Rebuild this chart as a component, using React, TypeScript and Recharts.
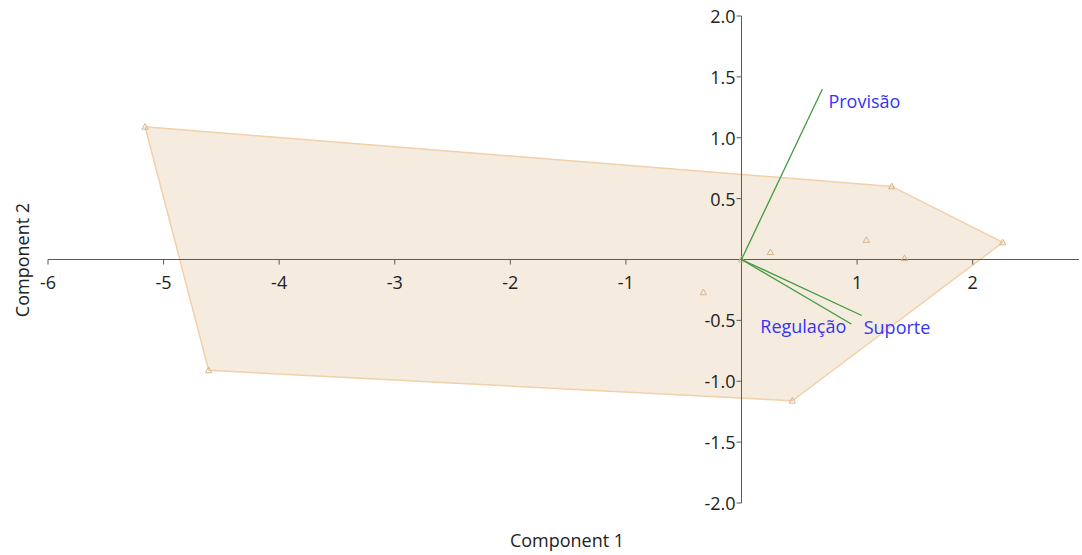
import React from "react";
import { ScatterChart, Scatter, XAxis, YAxis } from "recharts";

// Component scores (PC1, PC2) for each sample
const scoreX = [-5.16, -4.61, 0.44, 2.26, 1.3, 1.08, 0.25, 1.41, -0.33, 0.0];
const scoreY = [1.09, -0.91, -1.16, 0.14, 0.6, 0.16, 0.06, 0.01, -0.27, 0.0];
// convex hull, closed
const hullOrder = [0, 4, 3, 2, 1, 0];

// Loadings (biplot vectors)
const loadingNames = ["Provisão", "Regulação", "Suporte"];
const loadingX = [0.7, 0.95, 1.04];
const loadingY = [1.4, -0.53, -0.46];

const xTicks = [-6, -5, -4, -3, -2, -1, 1, 2];
const yTicks = [-2, -1.5, -1, -0.5, 0.5, 1, 1.5, 2];

const X_DOMAIN: [number, number] = [-6, 2.92];
const Y_DOMAIN: [number, number] = [-2, 2];

const FONT = "'Open Sans', 'Noto Sans', sans-serif";
const AXIS = "#5a5a5a";
const TEXT = "#222222";
const HULL_FILL = "#f6ebdf";
const HULL_STROKE = "#f1d0aa";
const MARK = "#d8b48c";
const VECTOR = "#3f9b3f";
const LABEL = "#3434f5";

const W = 1082;
const H = 555;

const scores = scoreX.map((x, i) => ({ x, y: scoreY[i] }));
const hull = hullOrder.map((i) => scores[i]);
const vectors = loadingNames.map((name, i) => ({
  name,
  data: [
    { x: 0, y: 0 },
    { x: loadingX[i], y: loadingY[i], name },
  ],
}));
const vectorTips = vectors.map((v) => v.data[1]);
const xAxisLine = [{ x: X_DOMAIN[0], y: 0 }, { x: X_DOMAIN[1], y: 0 }];
const yAxisLine = [{ x: 0, y: Y_DOMAIN[0] }, { x: 0, y: Y_DOMAIN[1] }];
const xTickData = xTicks.map((x) => ({ x, y: 0 }));
const yTickData = yTicks.map((y) => ({ x: 0, y }));

// where each loading label sits relative to its arrow tip
const labelPlacement: Record<string, { dx: number; dy: number; anchor: "start" | "end" }> = {
  "Provisão": { dx: 6, dy: 12, anchor: "start" },
  "Regulação": { dx: -5, dy: 2, anchor: "end" },
  "Suporte": { dx: 2, dy: 11, anchor: "start" },
};

const Empty = () => <g />;

const Triangle = (p: any) => {
  const { cx, cy } = p;
  const s = 3.2;
  return (
    <polygon
      points={`${cx},${cy - s} ${cx - s},${cy + s * 0.75} ${cx + s},${cy + s * 0.75}`}
      fill="none"
      stroke={MARK}
      strokeWidth={1}
    />
  );
};

const XTick = (p: any) => {
  const { cx, cy, payload } = p;
  return (
    <g>
      <line x1={cx} y1={cy} x2={cx} y2={cy + 5} stroke={AXIS} strokeWidth={1} />
      <text
        x={cx}
        y={cy + 22}
        textAnchor="middle"
        dominantBaseline="central"
        fontFamily={FONT}
        fontSize={18}
        fill={TEXT}
      >
        {String(payload.x)}
      </text>
    </g>
  );
};

const YTick = (p: any) => {
  const { cx, cy, payload } = p;
  return (
    <g>
      <line x1={cx - 5} y1={cy} x2={cx} y2={cy} stroke={AXIS} strokeWidth={1} />
      <text
        x={cx - 6}
        y={cy}
        textAnchor="end"
        dominantBaseline="central"
        fontFamily={FONT}
        fontSize={18}
        fill={TEXT}
      >
        {payload.y.toFixed(1)}
      </text>
    </g>
  );
};

const VectorLabel = (p: any) => {
  const { cx, cy, payload } = p;
  const pl = labelPlacement[payload.name];
  return (
    <text
      x={cx + pl.dx}
      y={cy + pl.dy}
      textAnchor={pl.anchor}
      dominantBaseline="central"
      fontFamily={FONT}
      fontSize={18}
      fill={LABEL}
    >
      {payload.name}
    </text>
  );
};

export default function App() {
  return (
    <div style={{ position: "absolute", left: 0, top: 0, width: W, height: H, background: "#fff" }}>
      <ScatterChart
        width={W}
        height={H}
        margin={{ top: 16, right: 3, bottom: 52, left: 48 }}
      >
        <XAxis type="number" dataKey="x" domain={X_DOMAIN} hide />
        <YAxis type="number" dataKey="y" domain={Y_DOMAIN} hide />

        {/* hull polygon */}
        <Scatter
          data={hull}
          line={{ stroke: HULL_STROKE, strokeWidth: 1.5, fill: HULL_FILL }}
          lineType="joint"
          shape={Empty}
          isAnimationActive={false}
        />

        {/* axes crossing at the origin */}
        <Scatter
          data={xAxisLine}
          line={{ stroke: AXIS, strokeWidth: 1 }}
          lineType="joint"
          shape={Empty}
          isAnimationActive={false}
        />
        <Scatter
          data={yAxisLine}
          line={{ stroke: AXIS, strokeWidth: 1 }}
          lineType="joint"
          shape={Empty}
          isAnimationActive={false}
        />
        <Scatter data={xTickData} shape={XTick} isAnimationActive={false} />
        <Scatter data={yTickData} shape={YTick} isAnimationActive={false} />

        {/* sample scores */}
        <Scatter data={scores} shape={Triangle} isAnimationActive={false} />

        {/* loading vectors */}
        {vectors.map((v) => (
          <Scatter
            key={v.name}
            data={v.data}
            line={{ stroke: VECTOR, strokeWidth: 1.3 }}
            lineType="joint"
            shape={Empty}
            isAnimationActive={false}
          />
        ))}
        <Scatter data={vectorTips} shape={VectorLabel} isAnimationActive={false} />
      </ScatterChart>

      <div
        style={{
          position: "absolute",
          left: 0,
          width: W,
          top: 528,
          textAlign: "center",
          paddingLeft: 52,
          boxSizing: "border-box",
          fontFamily: FONT,
          fontSize: 18,
          color: TEXT,
          lineHeight: "24px",
        }}
      >
        Component 1
      </div>
      <div
        style={{
          position: "absolute",
          left: 22,
          top: 260,
          transform: "translate(-50%, -50%) rotate(-90deg)",
          whiteSpace: "nowrap",
          fontFamily: FONT,
          fontSize: 18,
          color: TEXT,
          lineHeight: "24px",
        }}
      >
        Component 2
      </div>
    </div>
  );
}
